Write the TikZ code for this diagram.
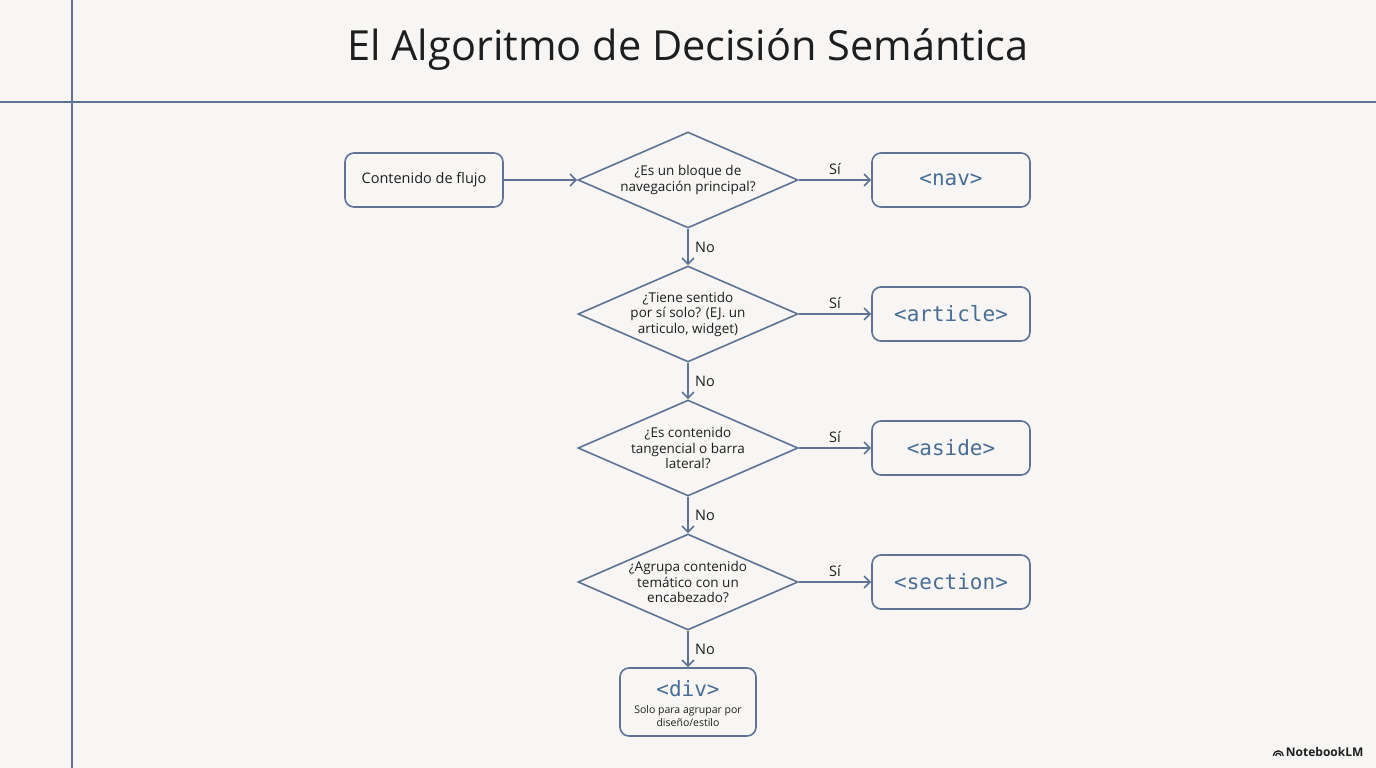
\documentclass[tikz,border=0pt]{standalone}
\usepackage{fontspec}
\setmainfont{Open Sans}
\setmonofont{DejaVu Sans Mono}
\usetikzlibrary{shapes.geometric,arrows.meta}
\definecolor{bg}{HTML}{F7F6F4}
\definecolor{ln}{HTML}{5E7293}
\definecolor{code}{HTML}{4A6D94}
\definecolor{txt}{HTML}{1E1E1E}
\begin{document}
\begin{tikzpicture}[x=1pt,y=-1pt,
  box/.style={draw=ln,line width=1.6pt,rounded corners=9pt,minimum width=158pt,minimum height=54pt,fill=bg,inner sep=0pt},
  dia/.style={draw=ln,line width=1.6pt,diamond,aspect=2.3,minimum width=220pt,minimum height=96pt,inner sep=0pt,align=center,font=\fontsize{13.5}{15.5}\selectfont,text=txt},
  arr/.style={draw=ln,line width=1.6pt,-{Straight Barb[length=6pt,width=12pt]}},
  lab/.style={font=\fontsize{14.5}{16}\selectfont,text=txt},
  cd/.style={font=\ttfamily\fontsize{21}{24}\selectfont,text=code}]
\fill[bg] (0,0) rectangle (1376,768);
\useasboundingbox (0,0) rectangle (1376,768);
\draw[ln,line width=1.4pt] (72,0) -- (72,768);
\draw[ln,line width=1.4pt] (0,102) -- (1376,102);
\node[font=\fontsize{41.5}{46}\selectfont,text=txt] (title) at (688,50) {El Algoritmo de Decisión Semántica};
\node[box,font=\fontsize{14.5}{16}\selectfont,text=txt] (start) at (424,180) {Contenido de flujo};
\node[dia] (d1) at (688,180) {¿Es un bloque de\\navegación principal?};
\node[dia] (d2) at (688,314) {¿Tiene sentido\\por sí solo? (EJ. un\\articulo, widget)};
\node[dia] (d3) at (688,448) {¿Es contenido\\tangencial o barra\\lateral?};
\node[dia] (d4) at (688,582) {¿Agrupa contenido\\temático con un\\encabezado?};
\node[box,cd] (nav) at (951,180) {<nav>};
\node[box,cd] (art) at (951,314) {<article>};
\node[box,cd] (asi) at (951,448) {<aside>};
\node[box,cd] (sec) at (951,582) {<section>};
\node[box,minimum width=136pt,minimum height=68pt,align=center] (div) at (688,702) {};
\node[cd] (divt) at (688,689) {<div>};
\node[font=\fontsize{10.5}{12.5}\selectfont,text=txt,align=center] (divs) at (688,716) {Solo para agrupar por\\diseño/estilo};
\draw[arr] (start) -- (d1.west);
\foreach \a/\b in {d1/nav,d2/art,d3/asi,d4/sec}{
  \draw[arr] (\a.east) -- node[lab,above=1pt,pos=0.5] {Sí} (\b.west);}
\foreach \a/\b in {d1/d2,d2/d3,d3/d4,d4/div}{
  \draw[arr] (\a.south) -- node[lab,right=3pt] {No} (\b.north);}
\node[font=\bfseries\fontsize{12}{14}\selectfont,text=txt] (logo) at (1318,752) {\tikz[x=1pt,y=1pt]\draw[line width=1.3pt] (0,0) arc(180:0:5) (2.5,0) arc(180:0:2.5);\,NotebookLM};
\end{tikzpicture}
\end{document}
